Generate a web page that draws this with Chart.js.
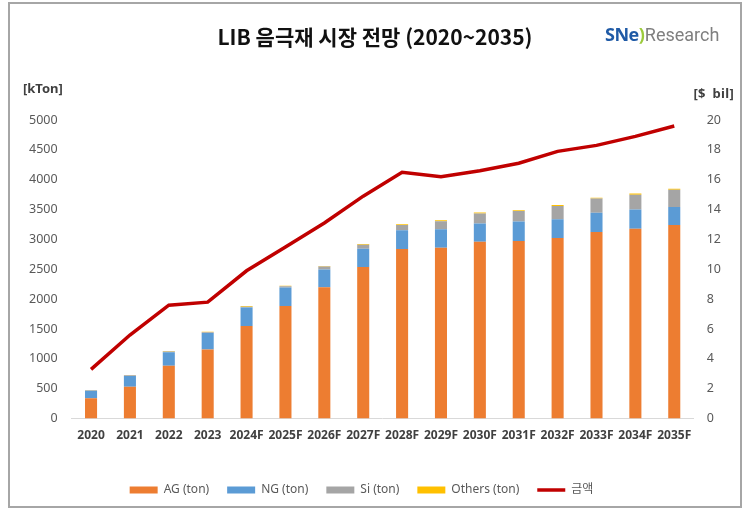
<!DOCTYPE html>
<html>
<head>
<meta charset="utf-8">
<script src="https://cdn.jsdelivr.net/npm/chart.js@4"></script>
<style>
  html, body { margin:0; padding:0; background:#fff; }
  #wrap { position:relative; width:745px; height:512px; overflow:hidden; background:#fff; }
  #frame { position:absolute; left:8px; top:2px; width:734px; height:506px; border:2px solid #a6a6a6; box-sizing:border-box; pointer-events:none; }
  canvas { position:absolute; left:0; top:0; }
  .lbl { position:absolute; white-space:nowrap; font-family:'Noto Sans','Noto Sans CJK KR',sans-serif; }
  #title { left:0; width:750px; top:21px; text-align:center; font-family:'Noto Sans CJK KR',sans-serif; font-weight:700; font-size:21px; color:#111; }
  #logo { left:605px; top:22px; font-size:18px; }
  #logo .sne { color:#1f5aa6; font-weight:700; font-family:'Open Sans',sans-serif; letter-spacing:-0.5px; }
  #logo .arc { color:#9ccb3b; font-weight:700; }
  #logo .res { color:#7f7f7f; font-family:'Liberation Sans Narrow','Roboto',sans-serif; font-size:18px; }
  #ul { left:23px; top:79px; font-size:13px; font-weight:700; color:#404040; }
  #ur { right:11px; top:84px; text-align:right; font-size:13px; font-weight:700; color:#404040; word-spacing:3px; letter-spacing:0.3px; z-index:5; }
</style>
</head>
<body>
<div id="wrap">
  <canvas id="c" width="745" height="512"></canvas>
  <div id="title" class="lbl">LIB 음극재 시장 전망 (2020~2035)</div>
  <div id="logo" class="lbl"><span class="sne">SNe</span><span class="arc">)</span><span class="res">Research</span></div>
  <div id="ul" class="lbl">[kTon]</div>
  <div id="frame"></div>
  <div id="ur" class="lbl">[$ bil]</div>
</div>
<script>
const categories = ['2020','2021','2022','2023','2024F','2025F','2026F','2027F','2028F','2029F','2030F','2031F','2032F','2033F','2034F','2035F'];
const agTon     = [340, 535, 885, 1155, 1550, 1885, 2200, 2540, 2840, 2860, 2960, 2975, 3025, 3125, 3180, 3240];
const ngTon     = [125, 180, 225, 280, 310, 310, 295, 305, 315, 310, 305, 325, 315, 320, 320, 305];
const siTon     = [10, 10, 12, 12, 15, 20, 50, 65, 85, 135, 170, 175, 220, 240, 250, 285];
const othersTon = [5, 5, 8, 8, 10, 10, 12, 15, 15, 15, 15, 15, 15, 15, 20, 20];
const amountBil = [3.3, 5.6, 7.6, 7.8, 9.9, 11.5, 13.1, 14.9, 16.5, 16.2, 16.6, 17.1, 17.9, 18.3, 18.9, 19.6];
const leftTicks = [0, 500, 1000, 1500, 2000, 2500, 3000, 3500, 4000, 4500, 5000];
const rightTicks = [0, 2, 4, 6, 8, 10, 12, 14, 16, 18, 20];

const FONT = "'Noto Sans','Noto Sans CJK KR',sans-serif";
const barCommon = { type:'bar', yAxisID:'y', barPercentage:0.31, categoryPercentage:1.0, order:2, borderWidth:0 };

const legendShift = {
  id:'legendShift',
  afterLayout(chart) { const l = chart.legend; if (l) { l.left -= 13; l.right -= 13; } }
};

new Chart(document.getElementById('c'), {
  data: {
    labels: categories,
    datasets: [
      Object.assign({ label:'AG (ton)', data: agTon, backgroundColor:'#ED7D31' }, barCommon),
      Object.assign({ label:'NG (ton)', data: ngTon, backgroundColor:'#5B9BD5' }, barCommon),
      Object.assign({ label:'Si (ton)', data: siTon, backgroundColor:'#A5A5A5' }, barCommon),
      Object.assign({ label:'Others (ton)', data: othersTon, backgroundColor:'#FFC000' }, barCommon),
      { type:'line', label:'금액', data: amountBil, yAxisID:'y1', borderColor:'#C00000', backgroundColor:'#C00000',
        borderWidth:3.5, pointRadius:0, tension:0, order:0 }
    ]
  },
  plugins:[legendShift],
  options: {
    responsive:false, animation:false, devicePixelRatio:1,
    layout: { padding: { top:120, bottom:6, left:15, right:11 } },
    plugins: {
      title: { display:false },
      tooltip: { enabled:false },
      legend: {
        position:'bottom',
        labels: {
          usePointStyle:true, pointStyleWidth:28, boxWidth:28, boxHeight:7, padding:18,
          color:'#595959', font:{ family:FONT, size:12 },
          generateLabels(chart) {
            const items = Chart.defaults.plugins.legend.labels.generateLabels(chart);
            items.sort((a, b) => a.datasetIndex - b.datasetIndex);
            items.forEach(it => {
              const ds = chart.data.datasets[it.datasetIndex];
              if (ds.type === 'line') { it.pointStyle = 'line'; it.lineWidth = 3.5; it.strokeStyle = '#C00000'; }
              else { it.pointStyle = 'rect'; it.lineWidth = 0; it.strokeStyle = ds.backgroundColor; }
            });
            return items;
          }
        }
      }
    },
    scales: {
      x: {
        stacked:true,
        grid:{ display:false, drawTicks:false },
        border:{ display:true, color:'#d9d9d9', width:1 },
        ticks:{ color:'#404040', font:{ family:FONT, size:12, weight:'bold' }, padding:10, maxRotation:0, autoSkip:false },
        afterFit(s){ s.height += 13; }
      },
      y: {
        stacked:true, min:0, max:5000, position:'left',
        afterBuildTicks(s){ s.ticks = leftTicks.map(v => ({ value:v })); },
        grid:{ display:false, drawTicks:false }, border:{ display:false },
        ticks:{ color:'#595959', font:{ family:FONT, size:12.5 }, padding:14, callback:(v) => String(v) }
      },
      y1: {
        min:0, max:20, position:'right',
        afterBuildTicks(s){ s.ticks = rightTicks.map(v => ({ value:v })); },
        grid:{ display:false, drawTicks:false }, border:{ display:false },
        ticks:{ color:'#595959', font:{ family:FONT, size:12.5 }, padding:13, callback:(v) => String(v) }
      }
    }
  }
});
</script>
</body>
</html>
